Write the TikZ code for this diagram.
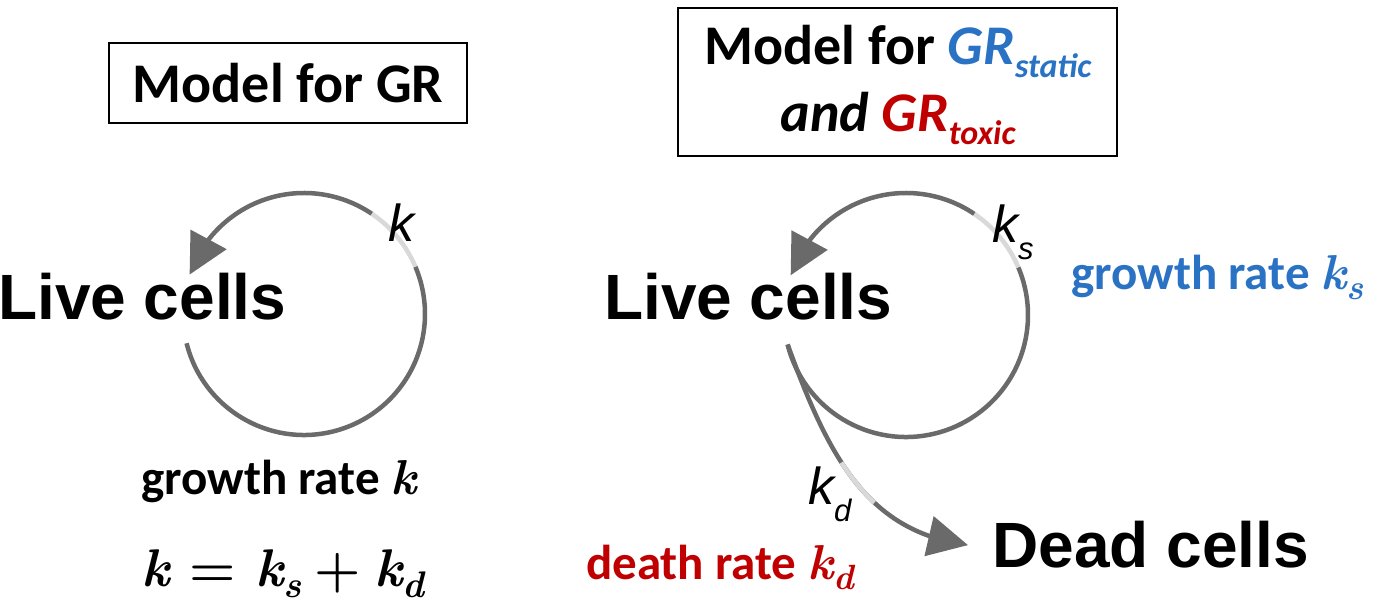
\documentclass[tikz,border=0pt]{standalone}
\usepackage{fontspec}
\usetikzlibrary{arrows.meta,calc,bending}
\newfontfamily\calfont{Carlito}
\newfontfamily\arialfont{Liberation Sans}
\newcommand\bki{{\rmfamily\bfseries\itshape k}}
\newcommand\bksub[3]{{\rmfamily\bfseries\itshape k\raisebox{-#2}{\fontsize{#3}{#3}\selectfont #1}}}
\definecolor{linegray}{HTML}{6A6A6A}
\definecolor{pale}{HTML}{D9D9D9}
\definecolor{gblue}{HTML}{2A72C4}
\definecolor{gred}{HTML}{C00000}
\tikzset{
  titlebox/.style={draw=black, line width=1.3pt, inner sep=0pt},
  titletext/.style={font=\calfont\bfseries\fontsize{56}{60}\selectfont, inner sep=0pt},
  celltext/.style={font=\arialfont\bfseries\fontsize{64}{70}\selectfont, inner sep=0pt, anchor=base west},
  ktext/.style={font=\arialfont\itshape\fontsize{52}{55}\selectfont, inner sep=0pt, anchor=base west},
  ratetext/.style={font=\calfont\bfseries\fontsize{49}{52}\selectfont, inner sep=0pt, anchor=base west},
  eqtext/.style={font=\rmfamily\bfseries\fontsize{53}{55}\selectfont, inner sep=0pt, anchor=base west},
  loopline/.style={draw=linegray, line width=4.5pt},
  paleline/.style={draw=pale, line width=4.5pt},
  bigtip/.style={-{Triangle[length=40pt,width=40pt]}}
}
\begin{document}
\begin{tikzpicture}[x=1pt,y=1pt]
\useasboundingbox (0,0) rectangle (1387,612);
\fill[white] (0,0) rectangle (1387,612);

% title boxes
\node[titlebox, titletext, minimum width=358pt, minimum height=80pt] (lbox) at (288,529) {Model for GR};
\node[titlebox, minimum width=439pt, minimum height=148pt] (rbox) at (897.5,530) {};
\node[titletext, anchor=base] (rt1) at (898,547) {Model for {\itshape\color{gblue}GR\raisebox{-13pt}{\fontsize{34}{34}\selectfont static}}};
\node[titletext, anchor=base] (rt2) at (898,480) {{\itshape and \color{gred}GR\raisebox{-13pt}{\fontsize{34}{34}\selectfont toxic}}};

% cell labels
\node[celltext] (live1) at (-2,292) {Live cells};
\node[celltext] (live2) at (604,292) {Live cells};
\node[celltext] (dead) at (992,44) {Dead cells};

% left loop
\coordinate (c1) at (304,298);
\draw[loopline] ($(c1)+(194:121)$) arc[start angle=194, end angle=383, radius=121pt];
\draw[paleline] ($(c1)+(23:121)$) arc[start angle=23, end angle=56, radius=121pt];
\draw[loopline, bigtip] ($(c1)+(56:121)$) arc[start angle=56, end angle=161, radius=121pt];

% right loop
\coordinate (c2) at (906,297);
\draw[loopline] ($(c2)+(194:122)$) arc[start angle=194, end angle=383, radius=122pt];
\draw[paleline] ($(c2)+(23:122)$) arc[start angle=23, end angle=56, radius=122pt];
\draw[loopline, bigtip] ($(c2)+(56:122)$) arc[start angle=56, end angle=161, radius=122pt];

% live -> dead
\coordinate (s2) at ($(c2)+(194:122)$);
\draw[loopline, bigtip] (s2) .. controls (830,150) and (870,80) .. ([xshift=-24pt]dead.west);
\draw[paleline, dash pattern=on 0pt off 130pt on 52pt off 2000pt] (s2) .. controls (830,150) and (870,80) .. ([xshift=-24pt]dead.west);

% rate symbols on arrows
\node[ktext] (k1) at (388,370) {k};
\node[ktext] (ks) at (992,369) {k\raisebox{-17pt}{\fontsize{31}{31}\selectfont s}};
\node[ktext] (kd) at (808,107) {k\raisebox{-17pt}{\fontsize{31}{31}\selectfont d}};

% rate texts
\node[ratetext] (gr1) at (141,117) {growth rate \bki};
\node[ratetext, text=gblue] (gr2) at (1071,322) {growth rate \bksub{s}{10pt}{35}};
\node[ratetext, text=gred] (dr) at (586,32) {death rate \bksub{d}{10pt}{35}};
\node[eqtext] (eq) at (141,25) {\bki\hspace{20pt}=\hspace{20pt}\bksub{s}{11pt}{37}\hspace{13pt}+\hspace{13pt}\bksub{d}{11pt}{37}};
\end{tikzpicture}
\end{document}
